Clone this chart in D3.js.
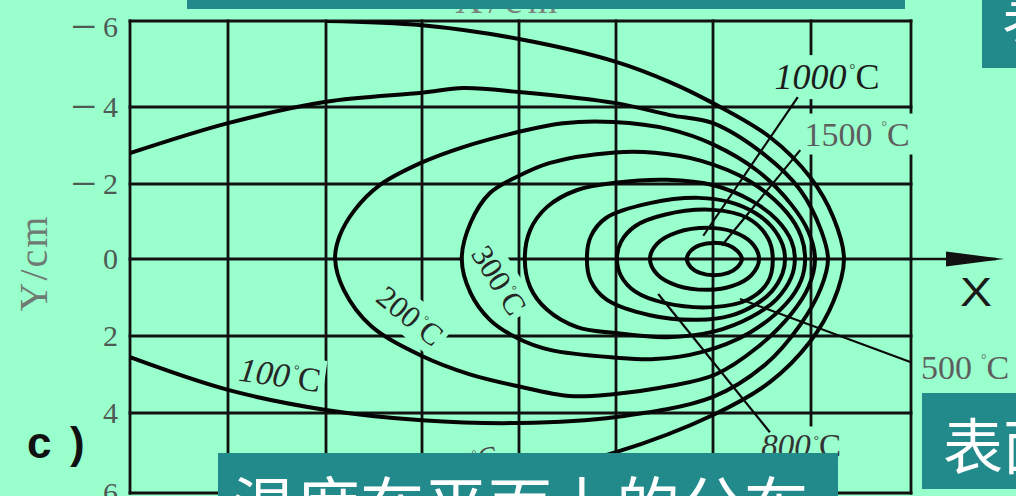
<!DOCTYPE html>
<html>
<head>
<meta charset="utf-8">
<script src="https://cdn.jsdelivr.net/npm/d3@7"></script>
<style>
  html, body { margin: 0; padding: 0; background: #99ffcc; overflow: hidden; }
  svg { display: block; }
</style>
</head>
<body>
<svg id="chart" width="1016" height="496"></svg>
<script>
// Grid values (cm)
const xTicks = [-12, -10, -8, -6, -4, -2, 0, 2, 4];
const yTicks = [-6, -4, -2, 0, 2, 4, 6];
const yTickLabels = ["6", "4", "2", "0", "2", "4", "6"];

// Isotherms, [x, y] in cm, source at the origin, moving toward +x
const iso1500 = [[-0.54,0],[-0.46,-0.22],[-0.27,-0.37],[0.02,-0.43],[0.31,-0.37],[0.5,-0.21],[0.59,0],[0.5,0.21],[0.31,0.36],[0.02,0.42],[-0.27,0.36],[-0.46,0.21]];
const iso1000 = [[-1.30,0],[-1.15,-0.41],[-0.74,-0.71],[-0.1,-0.83],[0.4,-0.73],[0.79,-0.43],[0.94,0],[0.79,0.41],[0.4,0.7],[-0.1,0.8],[-0.74,0.69],[-1.15,0.4]];
const iso800 = [[-1.98,0],[-1.9,-0.45],[-1.6,-0.88],[-1.0,-1.18],[0,-1.31],[0.71,-1.09],[1.12,-0.56],[1.22,0],[1.12,0.6],[0.71,1.06],[0,1.25],[-1.0,1.14],[-1.6,0.85],[-1.9,0.43]];
const iso500 = [[-2.6,0],[-2.52,-0.6],[-2.2,-1.1],[-1.3,-1.49],[-0.3,-1.63],[0.36,-1.51],[0.87,-1.22],[1.2,-0.86],[1.42,-0.38],[1.47,0],[1.42,0.37],[1.2,0.84],[0.87,1.18],[0.36,1.47],[-0.3,1.58],[-1.3,1.46],[-2.2,1.05],[-2.52,0.57]];
const iso400 = [[-3.88,0],[-3.77,-0.77],[-3.42,-1.39],[-2.8,-1.84],[-2.02,-2.03],[-0.95,-2.11],[0.03,-1.96],[0.79,-1.55],[1.3,-1.05],[1.6,-0.48],[1.67,0],[1.6,0.47],[1.3,1.04],[0.79,1.5],[0.03,1.88],[-0.95,2.03],[-2.02,1.92],[-2.8,1.77],[-3.42,1.32],[-3.77,0.73]];
const iso300 = [[-5.18,0],[-5.0,-0.96],[-4.6,-1.76],[-4.04,-2.19],[-3.36,-2.55],[-2.02,-2.82],[-1.2,-2.81],[-0.24,-2.6],[0.74,-2.08],[1.5,-1.25],[1.8,-0.6],[1.88,0],[1.8,0.55],[1.5,1.15],[0.74,1.92],[-0.24,2.42],[-1.2,2.6],[-2.02,2.56],[-3.36,2.36],[-4.04,2.05],[-4.6,1.58],[-5.0,0.88]];
const iso200 = [[-7.81,0],[-7.72,-0.6],[-7.4,-1.31],[-6.88,-1.97],[-6,-2.56],[-5.15,-2.96],[-4.02,-3.35],[-3.09,-3.58],[-2.06,-3.61],[-0.89,-3.42],[0,-3.03],[0.9,-2.35],[1.6,-1.45],[1.95,-0.72],[2.08,0],[1.95,0.72],[1.6,1.42],[0.9,2.3],[0.05,3.0],[-0.89,3.3],[-2.06,3.51],[-2.95,3.56],[-4.04,3.3],[-5.03,2.99],[-6.0,2.52],[-7.06,1.74],[-7.63,0.8]];
const iso100 = [[-12,-2.8],[-10,-3.58],[-8,-4.12],[-6,-4.33],[-5.15,-4.44],[-4,-4.35],[-2,-4.09],[-0.89,-3.79],[0,-3.58],[1.06,-2.75],[1.78,-1.84],[2.2,-0.77],[2.34,0],[2.2,0.75],[1.78,1.71],[1.06,2.75],[0,3.58],[-2,4.1],[-4,4.25],[-6,4.18],[-8,3.92],[-10,3.4],[-12,2.55]];
const iso50 = [[-8,-6],[-6,-5.9],[-4,-5.58],[-2,-5.05],[-0.89,-4.58],[0,-4.09],[1.16,-3.22],[1.98,-2.18],[2.45,-1.1],[2.66,0],[2.45,1.1],[1.98,2.15],[1.16,3.2],[0,4.05],[-2,4.98],[-4,5.55],[-6,5.9],[-8,6]];

const closedIsotherms = [iso1500, iso1000, iso800, iso500, iso400, iso300, iso200];
const openIsotherms = [iso100, iso50];

// Temperature labels: centre (cm), rotation (deg)
const labelTemps = ["1000", "1500", "500", "800", "300", "200", "100", "50"];
const labelX = [2.32, 2.92, 5.08, 1.8, -4.41, -6.25, -8.94, -5.01];
const labelY = [-4.70, -3.30, 2.81, 4.83, 0.55, 1.48, 3.01, 5.23];
const labelRot = [0, 0, 0, 0, 58, 39, 8, -15];
const labelSize = [36, 34, 34, 33, 31, 31, 34, 30];
const labelGap = [3, 9, 9, 3, 3, 3, 3, 3];
const labelItalic = [true, false, false, true, false, false, true, false];
const labelInk = ["#1c1c1c", "#5e5e5e", "#5e5e5e", "#333333", "#262626", "#262626", "#262626", "#444444"];

// Leader lines from labels to isotherms: [x1, y1, x2, y2] in cm
const leaders = [
  [1.73, -4.23, -0.2, -0.62],
  [1.78, -2.88, 0.18, -0.36],
  [4.0, 2.68, 0.55, 1.04],
  [1.16, 4.48, -1.13, 0.91]
];

const bg = "#99ffcc";
const teal = "#228a8a";

const svg = d3.select("#chart");

const x = d3.scaleLinear().domain(xTicks).range([130, 228, 326, 422, 519, 616, 713, 811, 911]);
const y = d3.scaleLinear().domain(yTicks).range([21, 107, 184, 259, 336, 413, 493]);

svg.append("rect").attr("width", 1016).attr("height", 496).attr("fill", bg);

svg.append("defs").append("clipPath").attr("id", "plotClip")
  .append("rect")
  .attr("x", x(-12)).attr("y", y(-6))
  .attr("width", x(4) - x(-12)).attr("height", y(6) - y(-6));

// Grid
const grid = svg.append("g").attr("stroke", "#111").attr("stroke-width", 2.8).attr("stroke-linecap", "square");
grid.selectAll("line.v").data(xTicks).join("line")
  .attr("class", "v")
  .attr("x1", d => x(d)).attr("x2", d => x(d))
  .attr("y1", y(-6)).attr("y2", y(6));
grid.selectAll("line.h").data(yTicks).join("line")
  .attr("class", "h")
  .attr("x1", x(-12)).attr("x2", x(4))
  .attr("y1", d => y(d)).attr("y2", d => y(d));

// X direction arrow
svg.append("line")
  .attr("x1", x(4)).attr("x2", 996)
  .attr("y1", y(0)).attr("y2", y(0))
  .attr("stroke", "#111").attr("stroke-width", 2.6);
svg.append("path")
  .attr("d", `M946,${y(0) - 7.5} L1004,${y(0)} L946,${y(0) + 7.5} Z`)
  .attr("fill", "#111");
svg.append("text")
  .attr("x", 960).attr("y", 306)
  .attr("font-family", "'Liberation Sans', Arial, sans-serif")
  .attr("font-size", 40)
  .attr("fill", "#1a1a1a")
  .attr("transform", "translate(960,306) scale(1.2,1) translate(-960,-306)")
  .text("X");

// Y tick labels: a long minus sign, a small gap, then the digit
const tickText = svg.append("g").selectAll("text").data(yTicks).join("text")
  .attr("x", 118)
  .attr("y", d => y(d) + (d === -6 ? 6 : 0) + 10)
  .attr("text-anchor", "end")
  .attr("font-family", "'Liberation Serif', 'Times New Roman', serif")
  .attr("font-size", 30)
  .attr("fill", "#4f5a55");
tickText.filter(d => d < 0).append("tspan")
  .attr("font-size", 46)
  .attr("dy", 5)
  .text("\u2212");
tickText.append("tspan")
  .attr("dx", d => d < 0 ? 6 : 0)
  .attr("dy", d => d < 0 ? -5 : 0)
  .text((d, i) => yTickLabels[i]);

// Axis titles
svg.append("text")
  .attr("transform", `translate(47,${y(0) + 4}) rotate(-90)`)
  .attr("text-anchor", "middle")
  .attr("font-family", "'Liberation Serif', 'Times New Roman', serif")
  .attr("font-size", 40)
  .attr("letter-spacing", 2)
  .attr("fill", "#6f7a74")
  .text("Y/cm");
svg.append("text")
  .attr("x", 455).attr("y", 13)
  .attr("font-family", "'Liberation Serif', 'Times New Roman', serif")
  .attr("font-size", 38)
  .attr("letter-spacing", 6)
  .attr("fill", "#7a8580")
  .text("X/cm");

// Panel tag
svg.append("text")
  .attr("x", 27).attr("y", 458)
  .attr("font-family", "'Liberation Sans', Arial, sans-serif")
  .attr("font-weight", "bold")
  .attr("font-size", 44)
  .attr("fill", "#111")
  .text("c");
svg.append("text")
  .attr("x", 70).attr("y", 458)
  .attr("font-family", "'Liberation Sans', Arial, sans-serif")
  .attr("font-weight", "bold")
  .attr("font-size", 44)
  .attr("fill", "#111")
  .text(")");

// Label masks sit between the grid and the isotherms
const maskLayer = svg.append("g");
const curveLayer = svg.append("g").attr("clip-path", "url(#plotClip)");
const leaderLayer = svg.append("g");
const labelLayer = svg.append("g");

const closedLine = d3.line().x(d => x(d[0])).y(d => y(d[1])).curve(d3.curveCatmullRomClosed.alpha(0.5));
const openLine = d3.line().x(d => x(d[0])).y(d => y(d[1])).curve(d3.curveCatmullRom.alpha(0.5));

curveLayer.selectAll("path.closed").data(closedIsotherms).join("path")
  .attr("class", "closed")
  .attr("d", closedLine)
  .attr("fill", "none").attr("stroke", "#050505").attr("stroke-width", 4);
curveLayer.selectAll("path.open").data(openIsotherms).join("path")
  .attr("class", "open")
  .attr("d", openLine)
  .attr("fill", "none").attr("stroke", "#050505").attr("stroke-width", 4);

leaderLayer.selectAll("line").data(leaders).join("line")
  .attr("x1", d => x(d[0])).attr("y1", d => y(d[1]))
  .attr("x2", d => x(d[2])).attr("y2", d => y(d[3]))
  .attr("stroke", "#0a0a0a").attr("stroke-width", 2.2);

labelTemps.forEach((t, i) => {
  const size = labelSize[i];
  const tf = `translate(${x(labelX[i])},${y(labelY[i])}) rotate(${labelRot[i]})`;
  const g = labelLayer.append("g").attr("transform", tf);
  const txt = g.append("text")
    .attr("text-anchor", "middle")
    .attr("y", size * 0.34)
    .attr("font-family", "'Liberation Serif', 'Times New Roman', serif")
    .attr("font-size", size)
    .attr("fill", labelInk[i]);
  txt.append("tspan").attr("font-style", labelItalic[i] ? "italic" : "normal").text(t);
  txt.append("tspan").attr("font-size", size * 0.4).attr("dx", labelGap[i]).attr("dy", -size * 0.42).text("\u00b0");
  txt.append("tspan").attr("font-size", size).attr("dy", size * 0.42).text("C");
  const bb = txt.node().getBBox();
  maskLayer.append("rect")
    .attr("transform", tf)
    .attr("x", bb.x - 4).attr("y", bb.y - 2)
    .attr("width", bb.width + 8).attr("height", bb.height + 4)
    .attr("fill", bg);
});

// Caption panels
const panels = svg.append("g");
panels.append("rect").attr("x", 187).attr("y", 0).attr("width", 718).attr("height", 9).attr("fill", teal);
panels.append("rect").attr("x", 982).attr("y", 0).attr("width", 34).attr("height", 68).attr("fill", teal);
panels.append("rect").attr("x", 922).attr("y", 393).attr("width", 94).attr("height", 96).attr("fill", teal);
panels.append("rect").attr("x", 218).attr("y", 453).attr("width", 620).attr("height", 43).attr("fill", teal);

const cjk = "'Noto Sans CJK SC', 'Noto Sans', sans-serif";
panels.append("text").attr("x", 1002).attr("y", 39)
  .attr("font-family", cjk).attr("font-size", 60).attr("fill", "#fff").text("表");
panels.append("text").attr("x", 943).attr("y", 469)
  .attr("font-family", cjk).attr("font-size", 60).attr("fill", "#fff").text("表面");
panels.append("text").attr("x", 232).attr("y", 530)
  .attr("font-family", cjk).attr("font-size", 64).attr("fill", "#fff").text("温度在平面上的分布");
</script>
</body>
</html>
